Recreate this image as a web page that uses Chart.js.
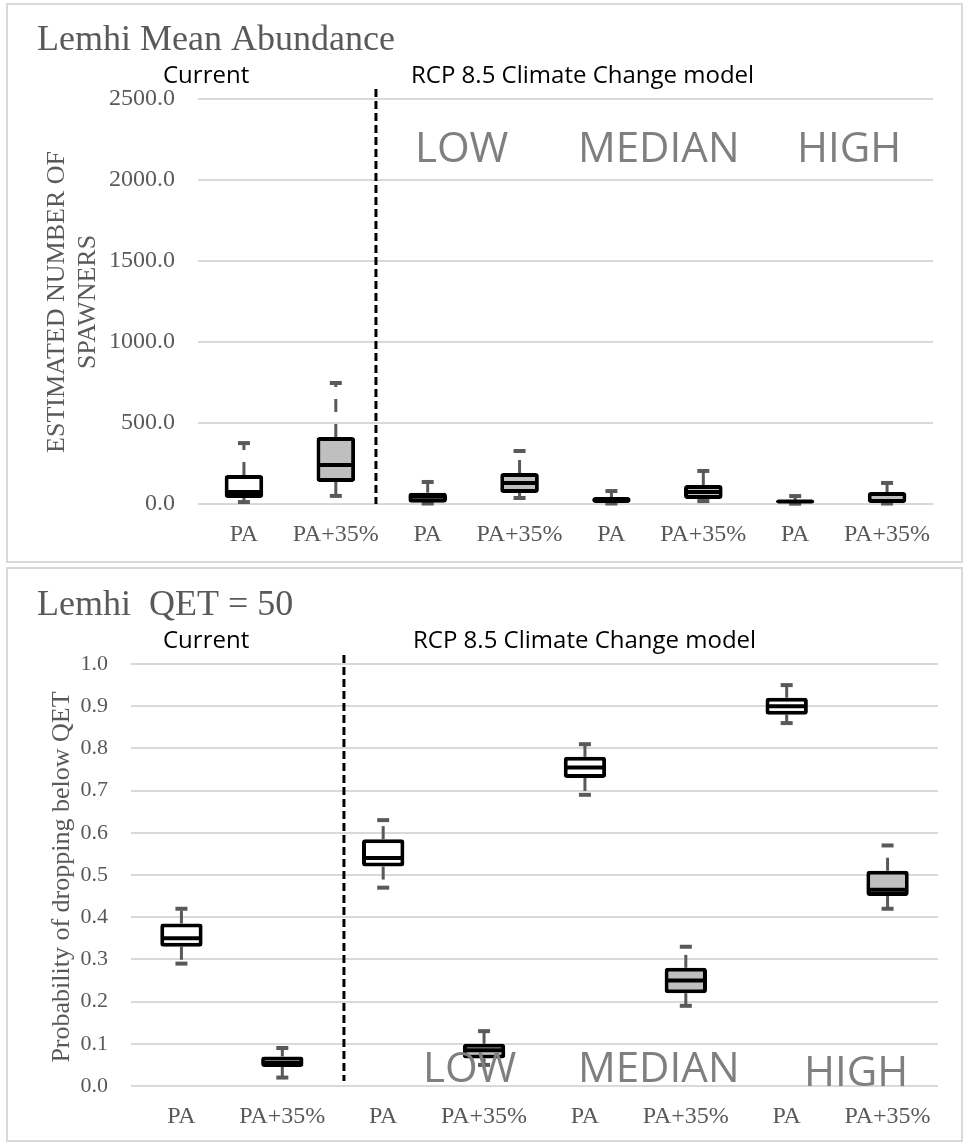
<!DOCTYPE html>
<html>
<head>
<meta charset="utf-8">
<script src="https://cdn.jsdelivr.net/npm/chart.js@4.4.0/dist/chart.umd.min.js"></script>
<style>
    body { margin: 0; background: #fff; }
    .panel { position: absolute; border: 2px solid #d9d9d9; box-sizing: border-box; }
    .wrap { position: absolute; left: 0; width: 965px; }
</style>
</head>
<body>
<div class="panel" style="left:6px; top:3px; width:957px; height:560px;"></div>
<div class="panel" style="left:6px; top:567px; width:957px; height:575px;"></div>
<div class="wrap" style="top:0; height:565px;"><canvas id="abundanceChart"></canvas></div>
<div class="wrap" style="top:565px; height:578px;"><canvas id="qetChart"></canvas></div>
<script>
// categories (same for both panels)
const categories = ['PA', 'PA+35%', 'PA', 'PA+35%', 'PA', 'PA+35%', 'PA', 'PA+35%'];
const boxColors = ['#ffffff', '#bfbfbf', '#ffffff', '#bfbfbf', '#ffffff', '#bfbfbf', '#ffffff', '#bfbfbf'];

// Lemhi mean abundance (estimated number of spawners)
const abMin = [12, 50, 3, 37, 3, 18, 2, 3];
const abQ1 = [37, 136, 8, 68, 6, 31, 6, 6];
const abMedian = [74, 241, 45, 130, 25, 74, 15, 18];
const abQ3 = [179, 413, 70, 191, 43, 117, 25, 74];
const abMax = [376, 747, 136, 327, 80, 204, 49, 130];
const abTicks = [0, 500, 1000, 1500, 2000, 2500];

// Lemhi QET = 50 (probability of dropping below QET)
const pMin = [0.29, 0.02, 0.47, 0.05, 0.69, 0.19, 0.86, 0.42];
const pQ1 = [0.33, 0.045, 0.52, 0.065, 0.73, 0.22, 0.88, 0.45];
const pMedian = [0.35, 0.055, 0.54, 0.085, 0.755, 0.25, 0.90, 0.465];
const pQ3 = [0.385, 0.07, 0.585, 0.10, 0.78, 0.28, 0.92, 0.51];
const pMax = [0.42, 0.09, 0.63, 0.13, 0.81, 0.33, 0.95, 0.57];
const pTicks = [0, 0.1, 0.2, 0.3, 0.4, 0.5, 0.6, 0.7, 0.8, 0.9, 1.0];

const SERIF = '"Liberation Serif", "Times New Roman", serif';
const SANS = '"Open Sans", sans-serif';

function boxPlotPlugin(stats, extra) {
    return {
        id: 'boxplot',
        beforeDatasetsDraw(chart) {
            const ctx = chart.ctx;
            const x = chart.scales.x, y = chart.scales.y;
            ctx.save();
            ctx.strokeStyle = '#595959';
            categories.forEach((c, i) => {
                const px = x.getPixelForValue(i);
                const ends = [[stats.q3[i], stats.max[i]], [stats.q1[i], stats.min[i]]];
                ends.forEach(([from, to]) => {
                    ctx.lineWidth = 3;
                    ctx.setLineDash([13, 12]);
                    ctx.beginPath();
                    ctx.moveTo(px, y.getPixelForValue(from));
                    ctx.lineTo(px, y.getPixelForValue(to));
                    ctx.stroke();
                    ctx.setLineDash([]);
                    ctx.lineWidth = 4;
                    ctx.beginPath();
                    ctx.moveTo(px - 6, y.getPixelForValue(to));
                    ctx.lineTo(px + 6, y.getPixelForValue(to));
                    ctx.stroke();
                });
            });
            ctx.restore();
        },
        afterDatasetsDraw(chart) {
            const ctx = chart.ctx;
            const y = chart.scales.y;
            const meta = chart.getDatasetMeta(0);
            ctx.save();
            ctx.strokeStyle = '#000';
            ctx.lineWidth = 4;
            meta.data.forEach((bar, i) => {
                const py = y.getPixelForValue(stats.median[i]);
                ctx.beginPath();
                ctx.moveTo(bar.x - bar.width / 2 + 2, py);
                ctx.lineTo(bar.x + bar.width / 2 - 2, py);
                ctx.stroke();
            });
            ctx.restore();
        },
        afterDraw(chart) {
            const ctx = chart.ctx;
            const x = chart.scales.x;
            ctx.save();
            // divider between current and climate change scenarios
            const dx = x.getPixelForValue(extra.divider);
            ctx.strokeStyle = '#000';
            ctx.lineWidth = 3;
            ctx.setLineDash([8, 4]);
            ctx.beginPath();
            ctx.moveTo(dx, extra.dividerTop);
            ctx.lineTo(dx, extra.dividerBottom);
            ctx.stroke();
            ctx.setLineDash([]);

            ctx.textAlign = 'left';
            ctx.textBaseline = 'alphabetic';
            extra.labels.forEach(l => {
                ctx.font = l.font;
                ctx.fillStyle = l.color;
                ctx.fillText(l.text, l.x, l.y);
            });

            // y axis title
            ctx.font = '26px ' + SERIF;
            ctx.fillStyle = '#595959';
            ctx.textAlign = 'center';
            ctx.textBaseline = 'middle';
            extra.yTitle.lines.forEach((t, k) => {
                ctx.save();
                ctx.translate(extra.yTitle.x[k], extra.yTitle.y);
                ctx.rotate(-Math.PI / 2);
                ctx.fillText(t, 0, 0);
                ctx.restore();
            });
            ctx.restore();
        }
    };
}

function makeChart(id, stats, ticks, extra) {
    const ctx = document.getElementById(id);
    if (ctx) {
        Chart.getChart(ctx)?.destroy();
    }
    new Chart(ctx, {
        type: 'bar',
        data: {
            labels: categories,
            datasets: [{
                data: categories.map((c, i) => [stats.q1[i], stats.q3[i]]),
                backgroundColor: boxColors,
                borderColor: '#000',
                borderWidth: 4,
                borderSkipped: false,
                borderRadius: 3,
                barPercentage: 0.42,
                categoryPercentage: 1
            }]
        },
        options: {
            responsive: true,
            maintainAspectRatio: false,
            animation: false,
            layout: {
                padding: extra.padding
            },
            plugins: {
                legend: { display: false },
                tooltip: { enabled: false }
            },
            scales: {
                x: {
                    grid: { display: false },
                    border: { display: false },
                    ticks: {
                        color: '#595959',
                        font: { family: SERIF, size: 24 },
                        padding: extra.xPad,
                        maxRotation: 0,
                        autoSkip: false
                    },
                    afterFit: (s) => { s.height = extra.xHeight; }
                },
                y: {
                    min: ticks[0],
                    max: ticks[ticks.length - 1],
                    afterBuildTicks: (s) => { s.ticks = ticks.map(v => ({ value: v })); },
                    grid: { color: '#d9d9d9', lineWidth: 2, drawTicks: false },
                    border: { display: false },
                    ticks: {
                        color: '#595959',
                        font: { family: SERIF, size: extra.tickSize },
                        padding: extra.yPad,
                        callback: (v) => Number(v).toFixed(1)
                    },
                    afterFit: (s) => { s.width = extra.yWidth; }
                }
            }
        },
        plugins: [boxPlotPlugin(stats, extra)]
    });
}

makeChart('abundanceChart',
    { min: abMin, q1: abQ1, median: abMedian, q3: abQ3, max: abMax },
    abTicks,
    {
        padding: { left: 0, right: 32, top: 99, bottom: 0 },
        yWidth: 198, xHeight: 61, xPad: 8, yPad: 23, tickSize: 24,
        divider: 1.437, dividerTop: 89, dividerBottom: 504,
        yTitle: { lines: ['ESTIMATED NUMBER OF', 'SPAWNERS'], x: [57, 88], y: 302 },
        labels: [
            { text: 'Lemhi Mean Abundance', x: 37, y: 50, font: '36px ' + SERIF, color: '#595959' },
            { text: 'Current', x: 163, y: 83, font: '24px ' + SANS, color: '#000' },
            { text: 'RCP 8.5 Climate Change model', x: 411, y: 83, font: '24px ' + SANS, color: '#000' },
            { text: 'LOW', x: 415, y: 162, font: '42px ' + SANS, color: '#7f7f7f' },
            { text: 'MEDIAN', x: 578, y: 162, font: '42px ' + SANS, color: '#7f7f7f' },
            { text: 'HIGH', x: 797, y: 162, font: '42px ' + SANS, color: '#7f7f7f' }
        ]
    });

makeChart('qetChart',
    { min: pMin, q1: pQ1, median: pMedian, q3: pQ3, max: pMax },
    pTicks,
    {
        padding: { left: 0, right: 27, top: 99, bottom: 0 },
        yWidth: 131, xHeight: 57, xPad: 8, yPad: 23, tickSize: 22,
        divider: 1.611, dividerTop: 90, dividerBottom: 516,
        yTitle: { lines: ['Probability of dropping below QET'], x: [62], y: 312 },
        labels: [
            { text: 'Lemhi  QET = 50', x: 37, y: 50, font: '36px ' + SERIF, color: '#595959' },
            { text: 'Current', x: 163, y: 83, font: '24px ' + SANS, color: '#000' },
            { text: 'RCP 8.5 Climate Change model', x: 413, y: 83, font: '24px ' + SANS, color: '#000' },
            { text: 'LOW', x: 423, y: 517, font: '42px ' + SANS, color: '#7f7f7f' },
            { text: 'MEDIAN', x: 578, y: 517, font: '42px ' + SANS, color: '#7f7f7f' },
            { text: 'HIGH', x: 804, y: 521, font: '42px ' + SANS, color: '#7f7f7f' }
        ]
    });
</script>
</body>
</html>
